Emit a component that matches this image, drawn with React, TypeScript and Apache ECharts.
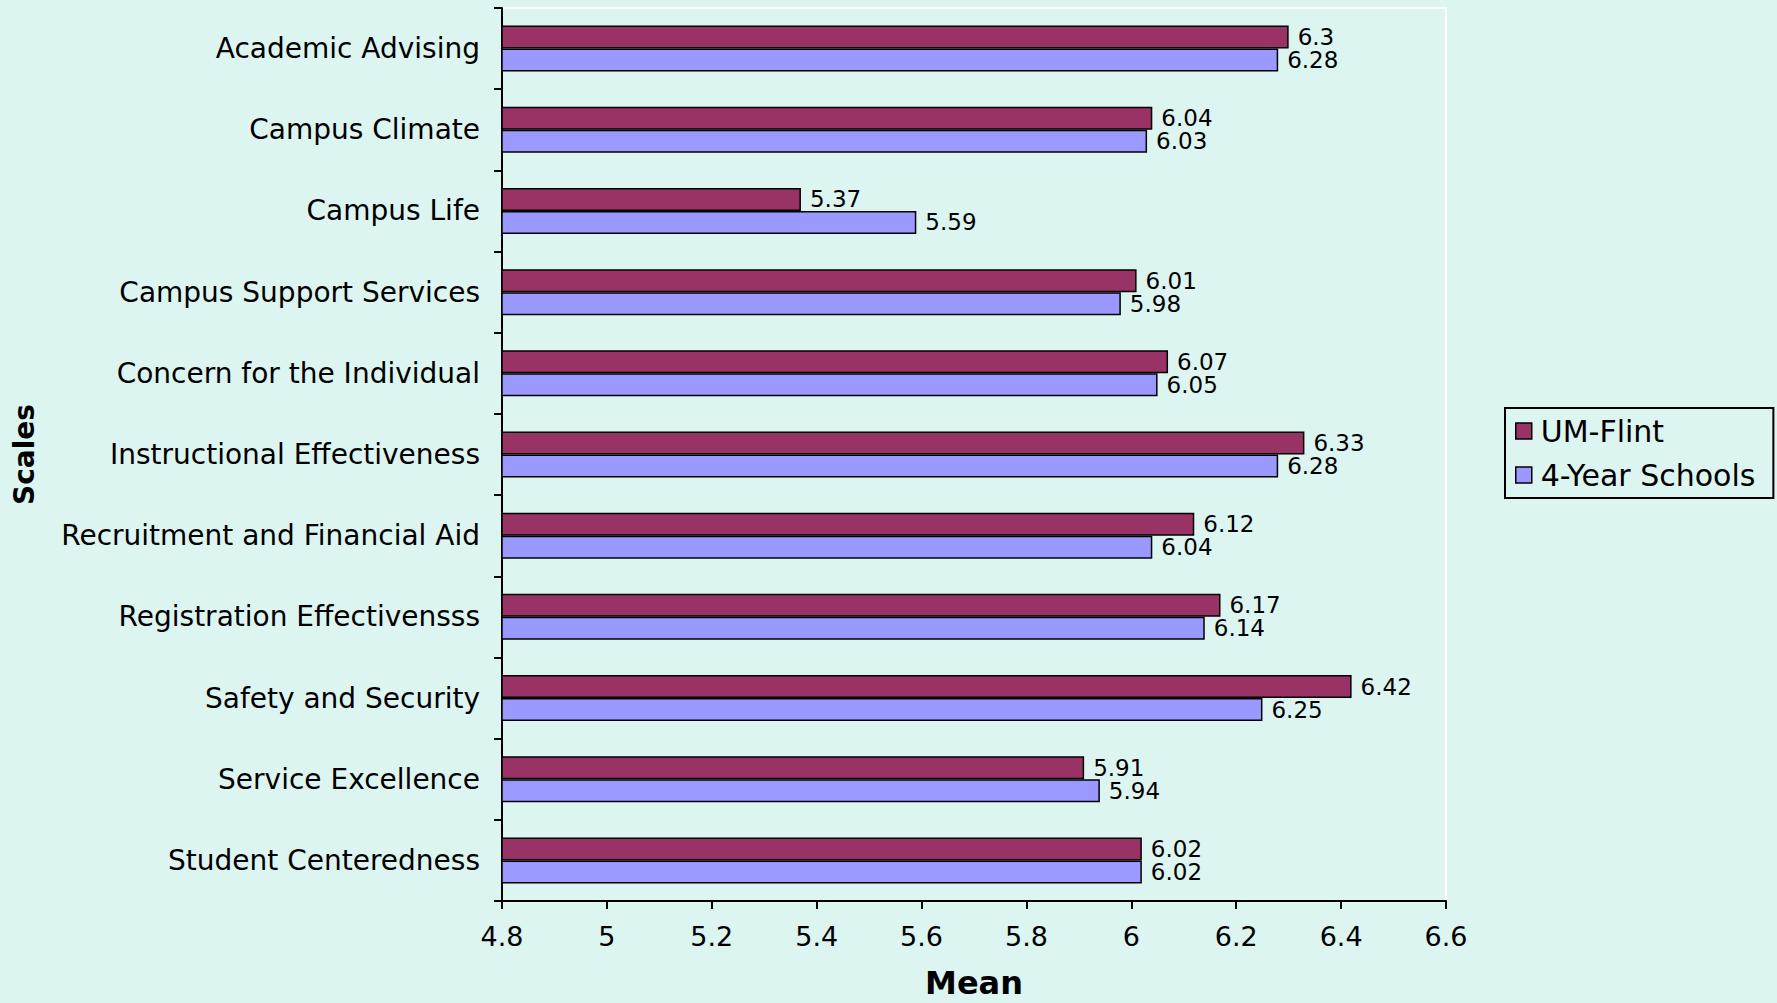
import React, { useEffect, useRef } from "react";
import * as echarts from "echarts";

const categories = [
  "Academic Advising",
  "Campus Climate",
  "Campus Life",
  "Campus Support Services",
  "Concern for the Individual",
  "Instructional Effectiveness",
  "Recruitment and Financial Aid",
  "Registration Effectivensss",
  "Safety and Security",
  "Service Excellence",
  "Student Centeredness",
];
const umFlint = [6.3, 6.04, 5.37, 6.01, 6.07, 6.33, 6.12, 6.17, 6.42, 5.91, 6.02];
const fourYear = [6.28, 6.03, 5.59, 5.98, 6.05, 6.28, 6.04, 6.14, 6.25, 5.94, 6.02];
const seriesNames = ["UM-Flint", "4-Year Schools"];

const FONT = "'DejaVu Sans', Verdana, sans-serif";

export default function App() {
  const ref = useRef<HTMLDivElement>(null);
  useEffect(() => {
    if (!ref.current) return;
    const chart = echarts.init(ref.current, null, { renderer: "svg" });
    const labelStyle = {
      show: true,
      position: "right",
      distance: 9,
      color: "#000",
      fontFamily: FONT,
      fontSize: 23,
      lineHeight: 21,
    };
    chart.setOption({
      animation: false,
      backgroundColor: "#DDF5F1",
      textStyle: { fontFamily: FONT },
      grid: {
        left: 502,
        right: 331,
        top: 8,
        bottom: 102,
        show: true,
        borderColor: "#ffffff",
        borderWidth: 2,
        backgroundColor: "transparent",
        containLabel: false,
        outerBoundsMode: "none",
      },
      legend: {
        orient: "vertical",
        left: 1505,
        top: 408,
        padding: [8, 18, 8, 10],
        borderColor: "#000",
        borderWidth: 2,
        itemWidth: 16,
        itemHeight: 16,
        itemGap: 14,
        icon: "rect",
        itemStyle: { borderColor: "#000", borderWidth: 1.5 },
        textStyle: { fontFamily: FONT, fontSize: 30, color: "#000", padding: [0, 0, 0, 4] },
        data: seriesNames,
      },
      xAxis: {
        type: "value",
        min: 4.8,
        max: 6.6,
        interval: 0.2,
        name: "Mean",
        nameLocation: "middle",
        nameGap: 66,
        nameTextStyle: { fontFamily: FONT, fontSize: 32, fontWeight: "bold", color: "#000" },
        axisLine: { show: true, lineStyle: { color: "#000", width: 2 } },
        axisTick: { show: true, length: 8, lineStyle: { color: "#000", width: 2 } },
        axisLabel: {
          color: "#000",
          fontFamily: FONT,
          fontSize: 27,
          margin: 22,
          formatter: (v: number) => String(Math.round(v * 10) / 10),
        },
        splitLine: { show: false },
      },
      yAxis: {
        type: "category",
        data: categories,
        inverse: true,
        name: "Scales",
        nameLocation: "middle",
        nameGap: 464,
        nameRotate: 90,
        nameTextStyle: { fontFamily: FONT, fontSize: 28, fontWeight: "bold", color: "#000" },
        axisLine: { show: true, lineStyle: { color: "#000", width: 2 } },
        axisTick: { show: true, length: 8, lineStyle: { color: "#000", width: 2 } },
        axisLabel: { color: "#000", fontFamily: FONT, fontSize: 28, margin: 22 },
      },
      series: [
        {
          name: seriesNames[0],
          type: "bar",
          data: umFlint,
          barWidth: 23,
          barGap: "0%",
          itemStyle: { color: "#993366", borderColor: "#000", borderWidth: 1.5 },
          label: labelStyle,
        },
        {
          name: seriesNames[1],
          type: "bar",
          data: fourYear,
          barWidth: 23,
          barGap: "0%",
          itemStyle: { color: "#9999FF", borderColor: "#000", borderWidth: 1.5 },
          label: labelStyle,
        },
      ],
    });
    return () => chart.dispose();
  }, []);
  return (
    <div
      ref={ref}
      style={{ position: "fixed", left: 0, top: 0, width: 1777, height: 1003 }}
    />
  );
}
